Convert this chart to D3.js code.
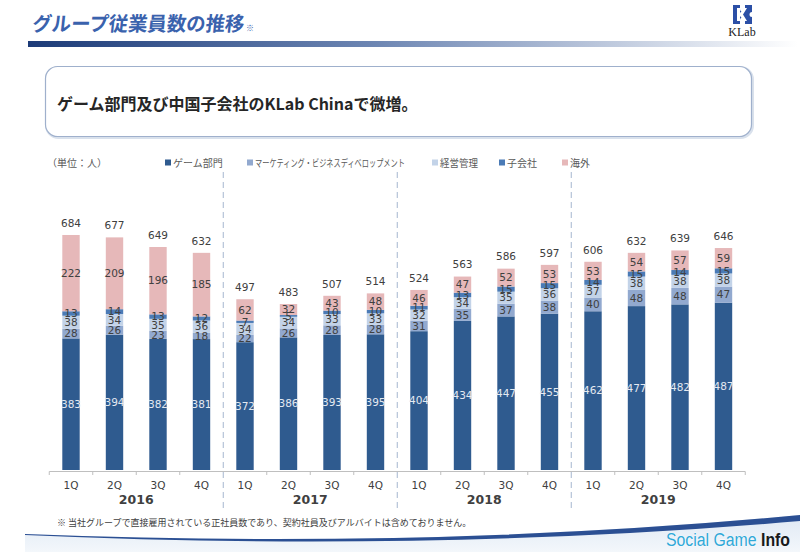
<!DOCTYPE html>
<html><head><meta charset="utf-8">
<script src="https://cdn.jsdelivr.net/npm/d3@7/dist/d3.min.js"></script>
<style>
html,body{margin:0;padding:0;background:#fff;}
svg{display:block;}
</style></head>
<body><svg id="c" width="800" height="552"></svg>
<script>
const years = ["2016","2017","2018","2019"];
const quarters = ["1Q","2Q","3Q","4Q"];
const seriesNames = ["ゲーム部門","マーケティング・ビジネスディベロップメント","経営管理","子会社","海外"];
const game = [383,394,382,381,372,386,393,395,404,434,447,455,462,477,482,487];
const marketing = [28,26,23,18,22,26,28,28,31,35,37,38,40,48,48,47];
const admin = [38,34,35,36,34,34,33,33,32,34,35,36,37,38,38,38];
const subsidiary = [13,14,13,12,7,5,10,10,11,13,15,15,14,15,14,15];
const overseas = [222,209,196,185,62,32,43,48,46,47,52,53,53,54,57,59];
const totals = [684,677,649,632,497,483,507,514,524,563,586,597,606,632,639,646];

const colors = ["#2f5b8f","#92a9cf","#c3d3e8","#4b7bb6","#e6b8b9"];
const labelColors = ["#e4e9f1","#404040","#404040","#404040","#404040"];

const categories = [];
years.forEach(y => quarters.forEach(q => categories.push(y + " " + q)));
const rows = categories.map((c,i) => ({cat:c, s0:game[i], s1:marketing[i], s2:admin[i], s3:subsidiary[i], s4:overseas[i], total:totals[i]}));
const keys = ["s0","s1","s2","s3","s4"];

const svg = d3.select("#c");
const JP = "'Noto Sans CJK JP','Noto Sans',sans-serif";
const NUM = "'DejaVu Sans',Verdana,sans-serif";

// ---- header ----
const defs = svg.append("defs");
const g1 = defs.append("linearGradient").attr("id","hbar");
g1.append("stop").attr("offset","0%").attr("stop-color","#1c3b78");
g1.append("stop").attr("offset","45%").attr("stop-color","#6d86b3");
g1.append("stop").attr("offset","100%").attr("stop-color","#ffffff");
svg.append("rect").attr("x",28).attr("y",41).attr("width",770).attr("height",6).attr("fill","url(#hbar)");

svg.append("text").attr("x",32).attr("y",31)
  .attr("font-family",JP).attr("font-weight","bold").attr("font-size",20)
  .attr("fill","#3a62ad").attr("transform","skewX(-6) translate(3,0)")
  .attr("textLength",212).attr("lengthAdjust","spacingAndGlyphs")
  .text("グループ従業員数の推移");
svg.append("text").attr("x",246).attr("y",31).attr("font-family",JP).attr("font-size",8).attr("fill","#3a62ad").text("※");

// KLab logo
const logo = svg.append("g").attr("transform","translate(733,5)");
logo.append("path").attr("d","M0,0 H7 V4 A2.5,2.5 0 0 0 12,4 V0 H19 V7 A2.5,2.5 0 0 0 19,12 V19 H12 V15 A2.5,2.5 0 0 0 7,15 V19 H0 Z").attr("fill","#2b4fa6");
logo.append("path").attr("d","M4,3 H7 V8 L11,3 H14 L10,9.5 L14,16 H11 L7,11 V16 H4 Z").attr("fill","#ffffff");
svg.append("text").attr("x",742).attr("y",36).attr("text-anchor","middle")
  .attr("font-family","'Liberation Serif','DejaVu Serif',serif").attr("font-size",12).attr("fill","#222").text("KLab");

// ---- message box ----
svg.append("rect").attr("x",46.5).attr("y",67.5).attr("width",706).attr("height",70).attr("rx",12)
  .attr("fill","none").attr("stroke","#d9e1ec").attr("stroke-width",3);
svg.append("rect").attr("x",45.5).attr("y",66.5).attr("width",706).attr("height",70).attr("rx",12)
  .attr("fill","#fff").attr("stroke","#9fb0cc").attr("stroke-width",1.2);
svg.append("text").attr("x",57).attr("y",110)
  .attr("font-family",JP).attr("font-weight","bold").attr("font-size",16).attr("fill","#262626")
  .text("ゲーム部門及び中国子会社のKLab Chinaで微増。");

// ---- scales ----
const x = d3.scaleBand().domain(categories).range([49.25,745.25]).paddingInner(0.6).paddingOuter(0.3);
const y = d3.scaleLinear().domain([0,700]).range([470, 470 - 700*0.3436]);
const step = x.step();
const x0 = 49.25;

// legend
svg.append("text").attr("x",47).attr("y",167).attr("font-family",JP).attr("font-size",10).attr("fill","#595959").text("（単位：人）");
const legX = [165,247,432,499,562];
const legScale = [1,0.72,0.95,1,1];
seriesNames.forEach((n,i) => {
  svg.append("rect").attr("x",legX[i]).attr("y",159.5).attr("width",6).attr("height",6).attr("fill",colors[i]);
  svg.append("text").attr("transform",`translate(${legX[i]+8},167) scale(${legScale[i]},1)`)
    .attr("font-family",JP).attr("font-size",10)
    .attr("fill","#595959").text(n);
});

// year separators
[4,8,12].forEach(i => {
  const xx = x0 + i*step;
  svg.append("line").attr("x1",xx).attr("x2",xx).attr("y1",172).attr("y2",509)
    .attr("stroke","#a5b6cf").attr("stroke-width",1).attr("stroke-dasharray","6,4");
});

// bars
const stack = d3.stack().keys(keys)(rows);
const layers = svg.append("g").selectAll("g").data(stack).join("g").attr("fill",(d,i)=>colors[i]);
layers.selectAll("rect").data(d=>d).join("rect")
  .attr("x",d=>x(d.data.cat)).attr("width",x.bandwidth())
  .attr("y",d=>y(d[1])).attr("height",d=>y(d[0])-y(d[1]));

// segment labels
stack.forEach((layer,li) => {
  svg.append("g").selectAll("text").data(layer).join("text")
    .attr("x",d=>x(d.data.cat)+x.bandwidth()/2)
    .attr("y",d=>(y(d[0])+y(d[1]))/2)
    .attr("dy","0.36em").attr("text-anchor","middle")
    .attr("font-family",NUM).attr("font-size",10.5).attr("fill",labelColors[li])
    .text(d=>d.data[keys[li]]);
});

// totals
svg.append("g").selectAll("text").data(rows).join("text")
  .attr("x",d=>x(d.cat)+x.bandwidth()/2).attr("y",d=>y(d.total)-12)
  .attr("dy","0.36em").attr("text-anchor","middle")
  .attr("font-family",NUM).attr("font-size",10.5).attr("fill","#404040")
  .text(d=>d.total);

// axis
svg.append("line").attr("x1",x0).attr("x2",x0+16*step).attr("y1",471.5).attr("y2",471.5).attr("stroke","#bfbfbf");
d3.range(17).forEach(i => {
  if (i%4===0 && i>0 && i<16) return;
  const xx = x0 + i*step;
  svg.append("line").attr("x1",xx).attr("x2",xx).attr("y1",471.5).attr("y2",475).attr("stroke","#bfbfbf");
});
svg.append("g").selectAll("text").data(categories).join("text")
  .attr("x",d=>x(d)+x.bandwidth()/2).attr("y",485).attr("dy","0.36em").attr("text-anchor","middle")
  .attr("font-family",NUM).attr("font-size",10.5).attr("fill","#404040")
  .text(d=>d.split(" ")[1]);
svg.append("g").selectAll("text").data(years).join("text")
  .attr("x",(d,i)=>x0 + (i*4+2)*step).attr("y",499).attr("dy","0.36em").attr("text-anchor","middle")
  .attr("font-family",NUM).attr("font-weight","bold").attr("font-size",12.5).attr("fill","#404040")
  .text(d=>d);

// footnote
svg.append("text").attr("x",57).attr("y",526).attr("font-family",JP).attr("font-size",9).attr("fill","#404040")
  .text("※ 当社グループで直接雇用されている正社員数であり、契約社員及びアルバイトは含めておりません。");

// bottom decoration
const g2 = defs.append("linearGradient").attr("id","bfill").attr("x1","0").attr("y1","0").attr("x2","0").attr("y2","1");
g2.append("stop").attr("offset","0%").attr("stop-color","#dfe8f4");
g2.append("stop").attr("offset","100%").attr("stop-color","#f3f7fb");
svg.append("path").attr("d","M25,534 Q430,550 800,515 V552 H25 Z").attr("fill","url(#bfill)");
svg.append("path").attr("d","M25,534 Q430,550 800,515 L800,521 Q430,553 25,535 Z").attr("fill","#2b4f93");

const sg = svg.append("text").attr("x",666).attr("y",546)
  .attr("font-family","'Liberation Sans Narrow','Liberation Sans',sans-serif").attr("font-size",18)
  .attr("textLength",124).attr("lengthAdjust","spacingAndGlyphs");
sg.append("tspan").attr("fill","#2fa8d8").attr("stroke","#fff").attr("stroke-width",0.6).attr("paint-order","stroke").text("Social Game ");
sg.append("tspan").attr("fill","#1a1a1a").attr("font-weight","bold").text("Info");
</script></body></html>
